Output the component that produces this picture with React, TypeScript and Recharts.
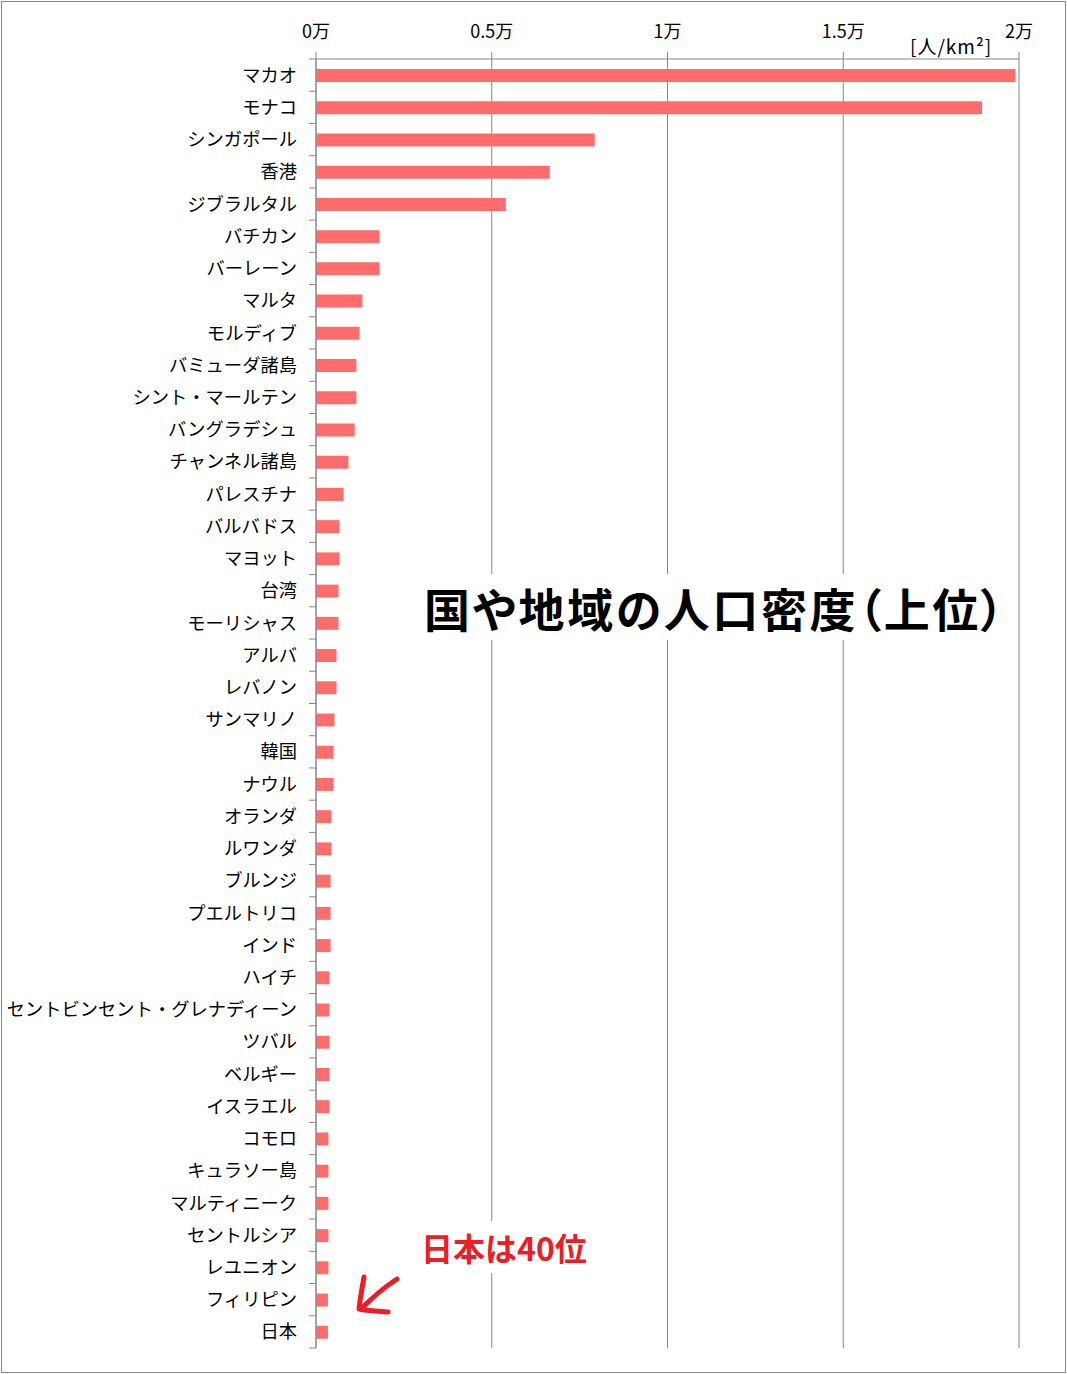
import { BarChart, Bar, XAxis, YAxis, CartesianGrid } from 'recharts';

// 国や地域の人口密度（上位40）
const countries = [
  'マカオ', 'モナコ', 'シンガポール', '香港', 'ジブラルタル',
  'バチカン', 'バーレーン', 'マルタ', 'モルディブ', 'バミューダ諸島',
  'シント・マールテン', 'バングラデシュ', 'チャンネル諸島', 'パレスチナ', 'バルバドス',
  'マヨット', '台湾', 'モーリシャス', 'アルバ', 'レバノン',
  'サンマリノ', '韓国', 'ナウル', 'オランダ', 'ルワンダ',
  'ブルンジ', 'プエルトリコ', 'インド', 'ハイチ', 'セントビンセント・グレナディーン',
  'ツバル', 'ベルギー', 'イスラエル', 'コモロ', 'キュラソー島',
  'マルティニーク', 'セントルシア', 'レユニオン', 'フィリピン', '日本',
];

// 人/km²
const density = [
  19900, 18950, 7930, 6650, 5400,
  1810, 1810, 1320, 1240, 1150,
  1150, 1100, 925, 785, 670,
  670, 640, 640, 585, 585,
  525, 500, 500, 440, 440,
  415, 415, 415, 385, 385,
  385, 385, 385, 355, 355,
  355, 355, 355, 340, 340,
];

const xTicks = [0, 5000, 10000, 15000, 20000];

const W = 1067;
const H = 1374;
const AXIS_X = 316;
const MARGIN = { top: 29, right: 48, bottom: 26, left: 0 };
const X_AXIS_H = 30;
const BAND = (H - MARGIN.top - X_AXIS_H - MARGIN.bottom) / countries.length;
const GRID = '#868686';
const FONT = '"Noto Sans CJK JP", "Noto Sans", sans-serif';

const rows = countries.map((name, i) => ({ name, value: density[i] }));

const XTick = ({ x, y, payload }: any) => (
  <text x={x} y={y - 12} textAnchor="middle" fontSize={18} fontFamily={FONT} fill="#000">
    {`${payload.value / 10000}万`}
  </text>
);

const YTick = ({ y, payload, index }: any) => (
  <g>
    <text
      x={AXIS_X - 19}
      y={y}
      dy="0.36em"
      textAnchor="end"
      fontSize={18.3}
      fontFamily={FONT}
      fill="#000"
    >
      {payload.value}
    </text>
    <line x1={AXIS_X - 7} x2={AXIS_X} y1={y - BAND / 2} y2={y - BAND / 2} stroke={GRID} />
    {index === countries.length - 1 && (
      <line x1={AXIS_X - 7} x2={AXIS_X} y1={y + BAND / 2} y2={y + BAND / 2} stroke={GRID} />
    )}
  </g>
);

export default function App() {
  return (
    <div style={{ position: 'absolute', left: 0, top: 0, width: W, height: H, background: '#fff' }}>
      <div
        style={{
          position: 'absolute',
          left: 1,
          top: 1,
          width: 1065,
          height: 1372,
          border: '1px solid #888',
          boxSizing: 'border-box',
        }}
      />
      <BarChart width={W} height={H} data={rows} layout="vertical" margin={MARGIN}>
        <CartesianGrid horizontal={false} stroke={GRID} />
        <XAxis
          type="number"
          orientation="top"
          domain={[0, 20000]}
          ticks={xTicks}
          height={X_AXIS_H}
          axisLine={{ stroke: GRID }}
          tickLine={{ stroke: GRID }}
          tickSize={7}
          tick={<XTick />}
        />
        <YAxis
          type="category"
          dataKey="name"
          width={AXIS_X}
          interval={0}
          axisLine={{ stroke: GRID }}
          tickLine={false}
          tick={<YTick />}
        />
        <Bar dataKey="value" fill="#FF6C6C" barSize={13} isAnimationActive={false} />
      </BarChart>

      <div
        style={{
          position: 'absolute',
          left: 910,
          top: 33,
          fontSize: 19,
          letterSpacing: 1,
          fontFamily: FONT,
          lineHeight: '26px',
          color: '#000',
        }}
      >
        [人/km²]
      </div>

      <div
        style={{
          position: 'absolute',
          left: 410,
          top: 574,
          width: 605,
          height: 66,
          background: '#fff',
          fontSize: 46,
          fontWeight: 700,
          lineHeight: '66px',
          fontFamily: FONT,
          color: '#000',
          whiteSpace: 'nowrap',
          paddingLeft: 14,
          boxSizing: 'border-box',
          fontFeatureSettings: '"palt"',
          letterSpacing: 2.6,
        }}
      >
        国や地域の人口密度（上位）
      </div>

      <div
        style={{
          position: 'absolute',
          left: 414,
          top: 1221,
          width: 180,
          height: 52,
          background: '#fff',
          fontSize: 32,
          fontWeight: 700,
          lineHeight: '52px',
          textAlign: 'center',
          fontFamily: FONT,
          color: '#EE1C25',
          whiteSpace: 'nowrap',
        }}
      >
        日本は40位
      </div>

      <svg
        width={60}
        height={50}
        style={{ position: 'absolute', left: 350, top: 1270 }}
      >
        <g fill="none" stroke="#EE1C25" strokeWidth={5} strokeLinecap="round" strokeLinejoin="round">
          <path d="M47 9 C36 16, 22 28, 11 39" />
          <path d="M14 7 C12 18, 10 30, 9 39 C18 41, 28 41, 38 42" />
        </g>
      </svg>
    </div>
  );
}
